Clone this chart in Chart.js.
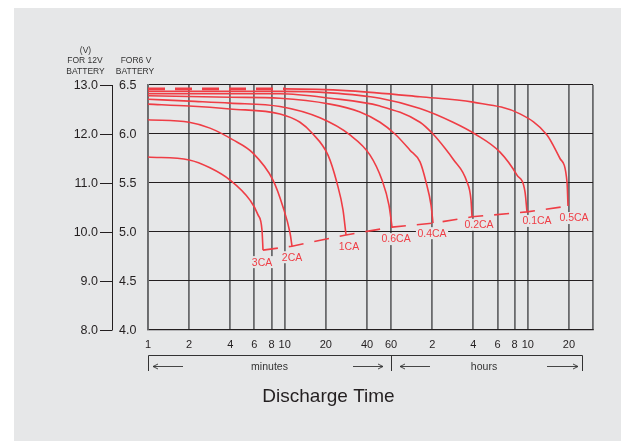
<!DOCTYPE html>
<html>
<head>
<meta charset="utf-8">
<script src="https://cdn.jsdelivr.net/npm/chart.js@4.4.1/dist/chart.umd.min.js"></script>
<style>
  html, body { margin: 0; padding: 0; background: #fff; }
  #wrap { width: 632px; height: 444px; }
</style>
</head>
<body>
<div id="wrap"><canvas id="dischargeChart" width="632" height="444"></canvas></div>
<script>
// discharge curves, time in minutes, voltage for the 12V battery
const rates = ['3CA', '2CA', '1CA', '0.6CA', '0.4CA', '0.2CA', '0.1CA', '0.5CA'];

const min3CA  = [1, 2, 2.84, 3.98, 5.57, 6.38, 6.82, 6.94];
const volt3CA = [11.53, 11.47, 11.31, 11.06, 10.65, 10.35, 10.04, 9.63];

const min2CA  = [1, 2, 2.84, 4.19, 5.86, 8.21, 9.72, 10.94, 11.31];
const volt2CA = [12.29, 12.24, 12.12, 11.88, 11.61, 11.06, 10.51, 9.98, 9.71];

const min1CA  = [1, 2, 3.98, 9.24, 12.94, 15.84, 20.74, 24.13, 26.7, 28.08];
const volt1CA = [12.61, 12.57, 12.51, 12.41, 12.24, 12.02, 11.57, 11.0, 10.45, 9.94];

const min06CA  = [1, 2, 3.98, 9.24, 18.1, 30.0, 42.1, 51.5, 57.9, 61.0];
const volt06CA = [12.71, 12.67, 12.63, 12.56, 12.33, 11.98, 11.57, 11.06, 10.55, 10.10];

const min04CA  = [1, 3.98, 9.24, 21.45, 35.55, 49.8, 64.1, 82.5, 97.7, 108.1, 117.6, 121.6];
const volt04CA = [12.78, 12.75, 12.73, 12.61, 12.45, 12.24, 12.0, 11.67, 11.43, 11.02, 10.55, 10.18];

const min02CA  = [1, 9.24, 21.45, 49.8, 97.7, 121.6, 148.8, 170.3, 215.6, 230.6, 234.5];
const volt02CA = [12.82, 12.82, 12.73, 12.57, 12.24, 12.0, 11.71, 11.49, 11.02, 10.65, 10.31];

const min01CA  = [1, 9.24, 21.45, 49.8, 97.7, 170.3, 246.7, 375.8, 500.4, 572.6, 592.2];
const volt01CA = [12.87, 12.87, 12.84, 12.73, 12.52, 12.24, 12.0, 11.63, 11.16, 10.82, 10.41];

const min005CA  = [1, 10.05, 30.04, 97.7, 238.5, 526.4, 829.4, 1032.5, 1161.9, 1181.5];
const volt005CA = [12.92, 12.92, 12.88, 12.76, 12.65, 12.41, 11.98, 11.50, 11.02, 10.53];

// axis ticks
const xTickValues = [1, 2, 4, 6, 8, 10, 20, 40, 60, 120, 240, 360, 480, 600, 1200];
const xTickLabels = ['1', '2', '4', '6', '8', '10', '20', '40', '60', '2', '4', '6', '8', '10', '20'];
const yTicks12V = [8, 9, 10, 11, 12, 13];

const curveTimes = [min3CA, min2CA, min1CA, min06CA, min04CA, min02CA, min01CA, min005CA];
const curveVolts = [volt3CA, volt2CA, volt1CA, volt06CA, volt04CA, volt02CA, volt01CA, volt005CA];

// label nudges from each curve's end point (px)
const labelDx = [-1, 0, 3, 4, -1, 7, 10, 6];
const labelDy = [12, 11, 12, 12, 10, 8, 9, 12];

const RED = '#ef3d45';
const INK = '#231f20';
const PANEL = '#e6e7e8';
const FONT = "'Liberation Sans', Arial, sans-serif";

const curveSets = curveTimes.map((ts, i) => ({
  label: rates[i],
  data: ts.map((t, j) => ({ x: t, y: curveVolts[i][j] })),
  borderColor: RED,
  borderWidth: 1.6,
  pointRadius: 0,
  fill: false,
  cubicInterpolationMode: 'monotone',
  // the lowest-rate curve starts as a thick dashed line
  segment: i === 7 ? {
    borderDash: c => c.p1.parsed.x <= 10.1 ? [17, 10] : undefined,
    borderWidth: c => c.p1.parsed.x <= 10.1 ? 2.6 : 1.6
  } : undefined
}));

const endLine = {
  label: 'end voltage',
  data: curveTimes.map((ts, i) => ({ x: ts[ts.length - 1], y: curveVolts[i][curveVolts[i].length - 1] })),
  borderColor: RED,
  borderWidth: 1.6,
  borderDash: [15, 11],
  pointRadius: 0,
  fill: false,
  tension: 0
};

const panelPlugin = {
  id: 'panel',
  beforeDraw(chart) {
    const c = chart.ctx;
    c.save();
    c.fillStyle = '#fff';
    c.fillRect(0, 0, chart.width, chart.height);
    c.fillStyle = PANEL;
    c.fillRect(14, 8, 607, 433);
    c.restore();
  }
};

function arrow(c, x1, x2, y) {
  // arrow pointing to x2
  c.beginPath();
  c.moveTo(x1, y);
  c.lineTo(x2, y);
  const d = x2 > x1 ? -1 : 1;
  c.moveTo(x2 + d * 5, y - 2.5);
  c.lineTo(x2, y);
  c.lineTo(x2 + d * 5, y + 2.5);
  c.stroke();
}

const decorPlugin = {
  id: 'decor',
  afterDatasetsDraw(chart) {
    const c = chart.ctx;
    const xs = chart.scales.x, ys = chart.scales.y;
    c.save();
    c.font = '10.5px ' + FONT;
    c.textAlign = 'center';
    c.textBaseline = 'middle';
    endLine.data.forEach((p, i) => {
      const px = xs.getPixelForValue(p.x) + labelDx[i];
      const py = ys.getPixelForValue(p.y) + labelDy[i];
      const w = c.measureText(rates[i]).width;
      c.fillStyle = PANEL;
      c.fillRect(px - w / 2 - 1.5, py - 6, w + 3, 12);
      c.fillStyle = RED;
      c.fillText(rates[i], px, py + 0.5);
    });
    c.restore();
  },
  afterDraw(chart) {
    const c = chart.ctx;
    const xs = chart.scales.x, ys = chart.scales.y;
    const area = chart.chartArea;
    c.save();
    c.strokeStyle = INK;
    c.fillStyle = INK;
    c.lineWidth = 1;

    // 12V axis line with ticks
    c.beginPath();
    c.moveTo(112.5, ys.getPixelForValue(13));
    c.lineTo(112.5, ys.getPixelForValue(8));
    yTicks12V.forEach(v => {
      const y = Math.round(ys.getPixelForValue(v)) + 0.5;
      c.moveTo(100, y);
      c.lineTo(112.5, y);
    });
    c.stroke();

    c.font = '12.5px ' + FONT;
    c.textBaseline = 'middle';
    yTicks12V.forEach(v => {
      const y = ys.getPixelForValue(v) + 0.5;
      c.textAlign = 'right';
      c.fillText(v.toFixed(1), 98, y);
      c.textAlign = 'left';
      c.fillText((v / 2).toFixed(1), 119, y);
    });

    // headers
    c.font = '8.5px ' + FONT;
    c.textAlign = 'center';
    c.fillStyle = '#333';
    c.fillText('(V)', 85.5, 50.5);
    c.fillText('FOR 12V', 85, 61);
    c.fillText('BATTERY', 85.5, 71.5);
    c.fillText('FOR6 V', 136, 61);
    c.fillText('BATTERY', 135, 71.5);

    // x tick labels
    c.font = '11px ' + FONT;
    c.fillStyle = INK;
    xTickValues.forEach((v, i) => {
      c.fillText(xTickLabels[i], xs.getPixelForValue(v), 344.5);
    });

    // minutes / hours bracket
    const xl = area.left + 0.5, xm = Math.round(xs.getPixelForValue(60)) + 0.5, xr = area.right - 10.5;
    c.strokeStyle = '#333';
    c.beginPath();
    c.moveTo(xl, 355.5); c.lineTo(xr, 355.5);
    c.moveTo(xl, 355.5); c.lineTo(xl, 371);
    c.moveTo(xm, 355.5); c.lineTo(xm, 371);
    c.moveTo(xr, 355.5); c.lineTo(xr, 371);
    c.stroke();
    c.lineWidth = 0.9;
    arrow(c, 183, 153, 366.5);
    arrow(c, 353, 383, 366.5);
    arrow(c, 430, 400, 366.5);
    arrow(c, 547, 578, 366.5);

    c.font = '10.5px ' + FONT;
    c.fillStyle = '#333';
    c.fillText('minutes', 269.5, 367);
    c.fillText('hours', 484, 367);

    // title
    c.font = '19px ' + FONT;
    c.fillStyle = INK;
    c.fillText('Discharge Time', 328.5, 397);
    c.restore();
  }
};

new Chart(document.getElementById('dischargeChart'), {
  type: 'line',
  data: { datasets: [...curveSets, endLine] },
  options: {
    responsive: false,
    animation: false,
    devicePixelRatio: 1,
    layout: { padding: { left: 148, right: 39, top: 85, bottom: 114 } },
    plugins: {
      legend: { display: false },
      tooltip: { enabled: false }
    },
    scales: {
      x: {
        type: 'logarithmic',
        min: 1,
        max: 1800,
        afterBuildTicks: axis => { axis.ticks = [...xTickValues, 1800].map(v => ({ value: v })); },
        afterFit: axis => { axis.height = 0; },
        ticks: { display: false },
        grid: { color: '#6a6b6d', lineWidth: 1.8, drawTicks: false },
        border: { color: INK, width: 1.2 }
      },
      y: {
        min: 8,
        max: 13,
        afterBuildTicks: axis => { axis.ticks = yTicks12V.map(v => ({ value: v })); },
        afterFit: axis => { axis.width = 0; },
        ticks: { display: false },
        grid: { color: INK, lineWidth: 1.1, drawTicks: false },
        border: { color: '#6a6b6d', width: 1.8 }
      }
    }
  },
  plugins: [panelPlugin, decorPlugin]
});
</script>
</body>
</html>
